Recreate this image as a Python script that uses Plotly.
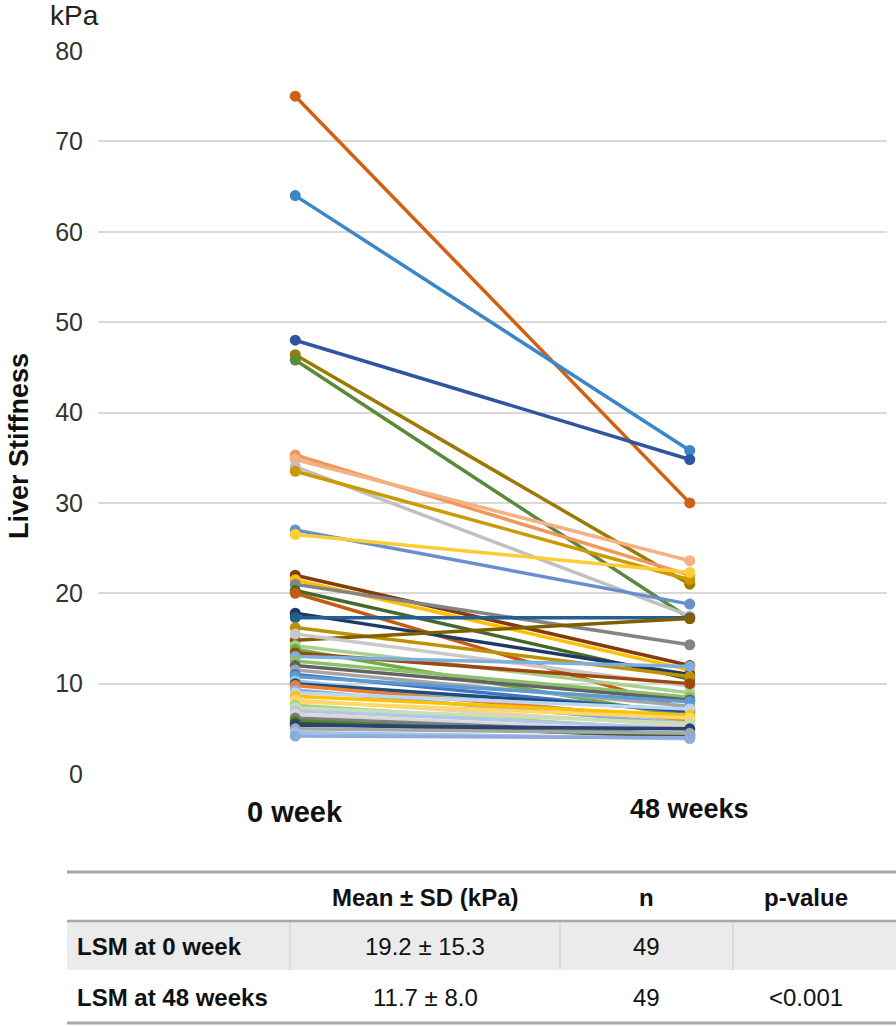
import plotly.graph_objects as go

# ---- data ----
timepoints = ["0 week", "48 weeks"]
lsm_week0 = [75.0, 64.0, 48.0, 46.4, 45.8, 35.3, 34.8, 34.0, 33.5, 27.0,
             26.5, 22.0, 21.5, 21.0, 20.3, 20.0, 17.8, 17.3, 16.2, 14.8,
             15.5, 14.2, 13.8, 13.4, 13.0, 12.5, 12.0, 11.5, 11.0, 10.8,
             10.3, 10.0, 9.8, 9.3, 9.0, 8.6, 8.2, 8.0, 7.6, 7.3,
             7.0, 6.6, 6.2, 5.9, 5.6, 5.4, 5.0, 4.6, 4.2]
lsm_week48 = [30.0, 35.8, 34.8, 21.0, 17.2, 22.0, 23.6, 17.5, 21.5, 18.8,
              22.3, 12.0, 11.5, 14.3, 10.5, 7.1, 11.0, 17.3, 10.8, 17.2,
              9.7, 9.0, 6.3, 10.0, 11.9, 8.5, 8.2, 7.5, 6.8, 8.0,
              5.8, 7.0, 6.0, 5.5, 7.2, 6.5, 5.3, 6.2, 4.8, 5.6,
              5.0, 4.6, 4.4, 4.0, 4.2, 5.0, 4.5, 3.9, 4.0]
series_colors = ["#D26012", "#3A87C8", "#2F55A0", "#9C7A00", "#5A8A39",
                 "#F1975A", "#F4B183", "#C0C0C0", "#CC9A00", "#698ED0",
                 "#FFCD33", "#843C0C", "#FFC000", "#848484", "#43682B",
                 "#C55A11", "#203864", "#255E91", "#BF9000", "#7F6000",
                 "#C9C9C9", "#A9D18E", "#70AD47", "#9E480E", "#7CAFDD",
                 "#8CC168", "#636363", "#A5A5A5", "#4472C4", "#5B9BD5",
                 "#9DC3E6", "#1F4E79", "#ED7D31", "#8FAADC", "#BDD7EE",
                 "#FFC000", "#F8CBAD", "#FFD966", "#A9D18E", "#C5E0B4",
                 "#B4C7E7", "#D9D9D9", "#7F7F7F", "#548235", "#375623",
                 "#264478", "#A6A6A6", "#9DC3E6", "#8FAADC"]

y_ticks = [0, 10, 20, 30, 40, 50, 60, 70, 80]

table_header = ["", "Mean ± SD (kPa)", "n", "p-value"]
table_rows = ["LSM at 0 week", "LSM at 48 weeks"]
table_mean_sd = ["19.2 ± 15.3", "11.7 ± 8.0"]
table_n = ["49", "49"]
table_p = ["", "<0.001"]

# ---- geometry helpers (pixels -> paper) ----
W, H = 896, 1026
L, R, T, B = 98, 887, 51, 774


def px_x(px):
    return (px - L) / (R - L)


def px_y(py):
    return (B - py) / (B - T)


FONT = "Liberation Sans, Arial, sans-serif"

fig = go.Figure()
x_pos = [0, 1]
for a, b, c in zip(lsm_week0, lsm_week48, series_colors):
    fig.add_trace(go.Scatter(
        x=x_pos, y=[a, b], mode="lines+markers",
        line=dict(color=c, width=3.5),
        marker=dict(color=c, size=11),
        showlegend=False, hoverinfo="y"))

annotations = []
shapes = []

# axis labels
annotations.append(dict(x=0, y=px_y(812), xref="x", yref="paper",
                        text="<b>" + timepoints[0] + "</b>", showarrow=False,
                        font=dict(family=FONT, size=29, color="#111"),
                        xanchor="center", yanchor="middle"))
annotations.append(dict(x=1, y=px_y(809), xref="x", yref="paper",
                        text="<b>" + timepoints[1] + "</b>", showarrow=False,
                        font=dict(family=FONT, size=27, color="#111"),
                        xanchor="center", yanchor="middle"))
annotations.append(dict(x=px_x(74), y=px_y(16), xref="paper", yref="paper",
                        text="kPa", showarrow=False,
                        font=dict(family=FONT, size=28, color="#222"),
                        xanchor="center", yanchor="middle"))
annotations.append(dict(x=px_x(2), y=px_y(446), xref="paper", yref="paper",
                        text="<b>Liver Stiffness</b>", showarrow=False, textangle=-90,
                        font=dict(family=FONT, size=27, color="#111"),
                        xanchor="left", yanchor="middle"))

# ---- table ----
tx0, tx1 = 67, 896
row_tops = [872, 921, 970, 1023]
col_centers = [None, 425, 646, 806]
col_divs = [290, 560, 733]
tfont = dict(family=FONT, size=24, color="#111")

# gray row fill
shapes.append(dict(type="rect", xref="paper", yref="paper",
                   x0=px_x(tx0), x1=px_x(tx1), y0=px_y(row_tops[1]), y1=px_y(row_tops[2]),
                   fillcolor="#EBEBEB", line=dict(width=0), layer="below"))
for d in col_divs:
    shapes.append(dict(type="line", xref="paper", yref="paper",
                       x0=px_x(d), x1=px_x(d), y0=px_y(row_tops[1]), y1=px_y(row_tops[2]),
                       line=dict(color="#D6D6D6", width=1.5)))
for yy, w in [(row_tops[0], 3), (row_tops[1], 2.5), (row_tops[3], 3)]:
    shapes.append(dict(type="line", xref="paper", yref="paper",
                       x0=px_x(tx0), x1=px_x(tx1), y0=px_y(yy), y1=px_y(yy),
                       line=dict(color="#A8A8A8", width=w)))

header_y = px_y(897)
for i in range(1, 4):
    annotations.append(dict(x=px_x(col_centers[i]), y=header_y, xref="paper", yref="paper",
                            text="<b>" + table_header[i] + "</b>", showarrow=False,
                            font=tfont, xanchor="center", yanchor="middle"))
row_centers = [946, 997]
for r in range(2):
    yc = px_y(row_centers[r])
    annotations.append(dict(x=px_x(75), y=yc, xref="paper", yref="paper",
                            text="<b>" + table_rows[r] + "</b>", showarrow=False,
                            font=tfont, xanchor="left", yanchor="middle"))
    for i, vals in zip([1, 2, 3], [table_mean_sd, table_n, table_p]):
        if vals[r]:
            annotations.append(dict(x=px_x(col_centers[i]), y=yc, xref="paper", yref="paper",
                                    text=vals[r], showarrow=False,
                                    font=tfont, xanchor="center", yanchor="middle"))

fig.update_layout(
    width=W, height=H,
    margin=dict(l=L, r=W - R, t=T, b=H - B),
    paper_bgcolor="white", plot_bgcolor="white",
    xaxis=dict(range=[-0.5, 1.5], showgrid=False, zeroline=False, showticklabels=False,
               showline=False, fixedrange=True),
    yaxis=dict(range=[0, 80], tickvals=y_ticks, showgrid=True, gridcolor="#D9D9D9",
               gridwidth=1.5, zeroline=False, showline=False,
               tickfont=dict(family=FONT, size=25, color="#333"),
               ticklabelstandoff=14, fixedrange=True),
    annotations=annotations, shapes=shapes,
    font=dict(family=FONT),
)

fig.write_html("out.html", config={"displayModeBar": False},
               post_script="document.body.style.margin='0';document.body.style.overflow='hidden';")
